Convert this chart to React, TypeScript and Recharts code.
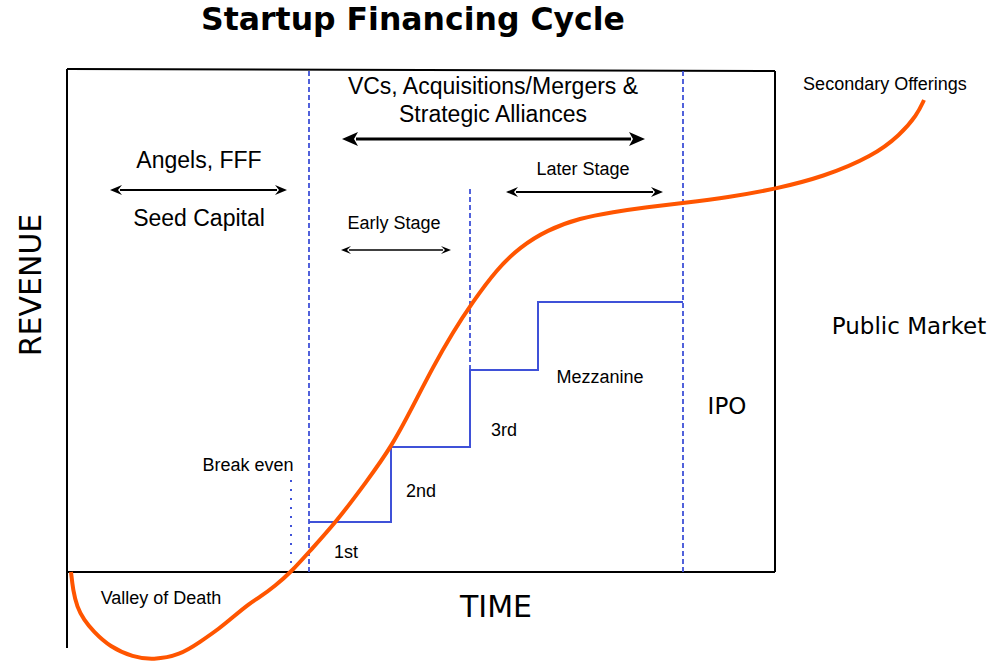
import React from "react";
import { ComposedChart, Line, XAxis, YAxis, ReferenceLine, Scatter } from "recharts";

// time = horizontal position in the diagram, revenue = height above break-even
const revenueCurve = [
  { t: 4, r: 0 }, { t: 6, r: -18 }, { t: 10, r: -35 }, { t: 17, r: -48 }, { t: 26, r: -59 },
  { t: 43, r: -75 }, { t: 66, r: -85 }, { t: 86, r: -88 }, { t: 113, r: -83 }, { t: 133, r: -70 },
  { t: 153, r: -56 }, { t: 166, r: -45 }, { t: 183, r: -31 }, { t: 193, r: -25 }, { t: 208, r: -14 },
  { t: 224, r: 0 }, { t: 242, r: 20 }, { t: 270, r: 51 }, { t: 300, r: 91 }, { t: 325, r: 126 },
  { t: 346, r: 166 }, { t: 366, r: 205 }, { t: 386, r: 240 }, { t: 405, r: 269 },
  { t: 430, r: 303 }, { t: 453, r: 325 }, { t: 480, r: 342 }, { t: 513, r: 354 }, { t: 546, r: 360 },
  { t: 580, r: 365 }, { t: 616, r: 369 }, { t: 663, r: 375 }, { t: 708, r: 383 }, { t: 756, r: 395 },
  { t: 806, r: 416 }, { t: 833, r: 437 }, { t: 850, r: 457 }, { t: 857, r: 472 },
];

const fundingSteps = [
  { t: 242, r: 50 }, { t: 324, r: 125 }, { t: 403, r: 202 }, { t: 471, r: 270 }, { t: 616, r: 270 },
];

const stageBoundaries = [
  { t: 242, from: 0, to: 503 },
  { t: 616, from: 0, to: 502 },
  { t: 403, from: 202, to: 384 },
];
const breakEvenMarker = { t: 224, from: 0, to: 92 };

const frameSegments = [
  [{ x: 0, y: 503 }, { x: 708, y: 501 }],
  [{ x: 708, y: 501 }, { x: 708, y: 0 }],
  [{ x: 0, y: 0 }, { x: 708, y: 0 }],
  [{ x: 0, y: 503 }, { x: 0, y: -76 }],
];

const arrowSpans = [
  { from: 43, to: 220, r: 382, kind: "medium" },
  { from: 275, to: 578, r: 433, kind: "big" },
  { from: 439, to: 596, r: 380, kind: "medium" },
  { from: 274, to: 384, r: 322, kind: "small" },
];

const titleLabels = [{ t: 346, r: 553, text: "Startup Financing Cycle" }];
const axisLabels = [{ t: 429, r: -34, text: "TIME" }];
const verticalLabels = [{ t: -37, r: 287, text: "REVENUE" }];
const wideLabels = [
  { t: 842, r: 246, text: "Public Market" },
  { t: 660, r: 166, text: "IPO" },
];
const mediumLabels = [
  { t: 132, r: 412, text: "Angels, FFF" },
  { t: 132, r: 354, text: "Seed Capital" },
  { t: 426, r: 486, text: "VCs, Acquisitions/Mergers &" },
  { t: 426, r: 458, text: "Strategic Alliances" },
];
const smallLabels = [
  { t: 327, r: 349, text: "Early Stage" },
  { t: 516, r: 403, text: "Later Stage" },
  { t: 818, r: 488, text: "Secondary Offerings" },
  { t: 533, r: 195, text: "Mezzanine" },
  { t: 437, r: 142, text: "3rd" },
  { t: 354, r: 81, text: "2nd" },
  { t: 279, r: 20, text: "1st" },
  { t: 181, r: 107, text: "Break even" },
  { t: 94, r: -26, text: "Valley of Death" },
];

const ORANGE = "#ff5500";
const BLUE = "#3f51d8";

const arrowStyles: Record<string, { w: number; len: number; half: number }> = {
  big: { w: 3, len: 16, half: 7 },
  medium: { w: 2, len: 12, half: 5 },
  small: { w: 1.5, len: 10, half: 4 },
};

function makeArrow(kind: string) {
  const s = arrowStyles[kind];
  return (props: any) => {
    const { x1, y1, x2, y2 } = props;
    const a = Math.min(x1, x2);
    const b = Math.max(x1, x2);
    const y = y1;
    return (
      <g>
        <line x1={a + s.len - 2} y1={y} x2={b - s.len + 2} y2={y2} stroke="#000" strokeWidth={s.w} />
        <path d={`M${a},${y} L${a + s.len},${y - s.half} L${a + s.len - 4},${y} L${a + s.len},${y + s.half} Z`} fill="#000" />
        <path d={`M${b},${y} L${b - s.len},${y - s.half} L${b - s.len + 4},${y} L${b - s.len},${y + s.half} Z`} fill="#000" />
      </g>
    );
  };
}

function textShape(family: string, size: number, weight: string | number = "normal", rotate = false) {
  return (props: any) => {
    const { cx, cy, payload } = props;
    return (
      <text
        x={cx}
        y={cy}
        dy={size * 0.36}
        textAnchor="middle"
        fontFamily={family}
        fontSize={size}
        fontWeight={weight}
        fill="#000"
        transform={rotate ? `rotate(-90 ${cx} ${cy})` : undefined}
      >
        {payload.text}
      </text>
    );
  };
}

export default function App() {
  return (
    <div style={{ position: "absolute", left: 0, top: 0, width: 1000, height: 669, background: "#fff" }}>
      <ComposedChart width={1000} height={669} margin={{ top: 0, right: 0, bottom: 0, left: 0 }}>
        <XAxis type="number" dataKey="t" domain={[-67, 933]} hide allowDataOverflow />
        <YAxis type="number" dataKey="r" domain={[-97, 572]} hide allowDataOverflow />

        {frameSegments.map((seg, i) => (
          <ReferenceLine key={"f" + i} segment={seg} stroke="#000" strokeWidth={2} ifOverflow="visible" />
        ))}

        {stageBoundaries.map((b, i) => (
          <ReferenceLine
            key={"s" + i}
            segment={[{ x: b.t, y: b.from }, { x: b.t, y: b.to }]}
            stroke={BLUE}
            strokeWidth={1.8}
            strokeDasharray="5 3"
            ifOverflow="visible"
          />
        ))}
        <ReferenceLine
          segment={[{ x: breakEvenMarker.t, y: breakEvenMarker.from }, { x: breakEvenMarker.t, y: breakEvenMarker.to }]}
          stroke={BLUE}
          strokeWidth={2}
          strokeDasharray="2 7"
          ifOverflow="visible"
        />

        {arrowSpans.map((a, i) => (
          <ReferenceLine
            key={"a" + i}
            segment={[{ x: a.from, y: a.r }, { x: a.to, y: a.r }]}
            ifOverflow="visible"
            shape={makeArrow(a.kind)}
          />
        ))}

        <Line
          data={fundingSteps}
          dataKey="r"
          type="stepAfter"
          stroke={BLUE}
          strokeWidth={2}
          dot={false}
          isAnimationActive={false}
        />
        <Line
          data={revenueCurve}
          dataKey="r"
          type="basis"
          stroke={ORANGE}
          strokeWidth={4}
          dot={false}
          isAnimationActive={false}
        />

        <Scatter data={titleLabels} dataKey="r" isAnimationActive={false} shape={textShape("DejaVu Sans", 31.5, "bold")} />
        <Scatter data={axisLabels} dataKey="r" isAnimationActive={false} shape={textShape("DejaVu Sans", 30)} />
        <Scatter data={verticalLabels} dataKey="r" isAnimationActive={false} shape={textShape("DejaVu Sans", 30, "normal", true)} />
        <Scatter data={wideLabels} dataKey="r" isAnimationActive={false} shape={textShape("DejaVu Sans", 23)} />
        <Scatter data={mediumLabels} dataKey="r" isAnimationActive={false} shape={textShape("Liberation Sans", 23)} />
        <Scatter data={smallLabels} dataKey="r" isAnimationActive={false} shape={textShape("Liberation Sans", 18)} />
      </ComposedChart>
    </div>
  );
}
